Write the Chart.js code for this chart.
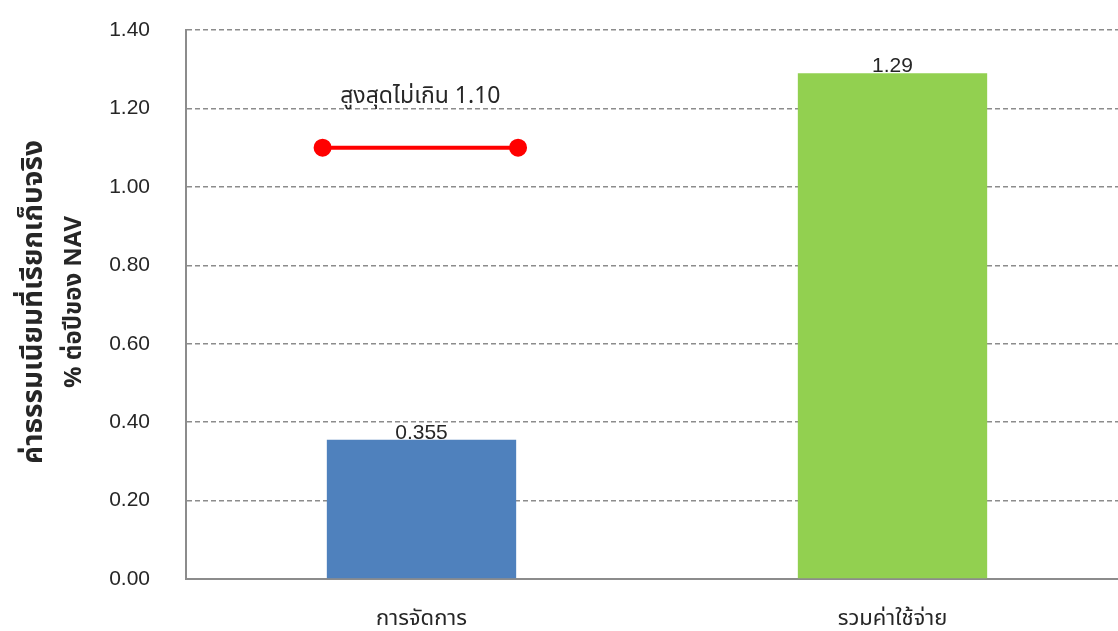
<!DOCTYPE html>
<html>
<head>
<meta charset="utf-8">
<script src="https://cdn.jsdelivr.net/npm/chart.js@4/dist/chart.umd.min.js"></script>
<style>
  html, body { margin: 0; padding: 0; background: #fff; overflow: hidden; }
  #wrap { width: 1128px; height: 631px; }
</style>
</head>
<body>
<div id="wrap"><canvas id="feeChart" width="1128" height="631"></canvas></div>
<script>
"use strict";

const categories = ['การจัดการ', 'รวมค่าใช้จ่าย'];
const actualFees = [0.355, 1.29];
const valueLabels = ['0.355', '1.29'];
const feeCap = 1.10;
const feeCapLabel = 'สูงสุดไม่เกิน 1.10';
const capSpan = [0.29, 0.705];   // position along the first category
const yTicks = [0, 0.2, 0.4, 0.6, 0.8, 1.0, 1.2, 1.4];
const yTitle = ['ค่าธรรมเนียมที่เรียกเก็บจริง', '% ต่อปีของ NAV'];

const FONT = "'Liberation Sans', Arial, 'Noto Sans', sans-serif";
const THAI = "Tahoma, 'Noto Sans Thai', 'Liberation Sans', 'Noto Sans', sans-serif";

// bar values + cap label + rotated axis title
const textPlugin = {
    id: 'textPlugin',
    afterDatasetsDraw(chart) {
        const c = chart.ctx;
        c.save();
        c.fillStyle = '#262626';
        c.textAlign = 'center';
        c.textBaseline = 'bottom';
        c.font = '21px ' + FONT;
        chart.getDatasetMeta(0).data.forEach(function (bar, i) {
            c.fillText(valueLabels[i], bar.x, bar.y + 4);
        });

        const pts = chart.getDatasetMeta(1).data;
        c.font = '23px ' + THAI;
        c.textBaseline = 'middle';
        c.fillText(feeCapLabel, (pts[0].x + pts[1].x) / 2, pts[0].y - 49);

        c.font = 'bold 28px ' + THAI;
        c.save();
        c.translate(36, 302);
        c.rotate(-Math.PI / 2);
        c.fillText(yTitle[0], 0, 0);
        c.restore();
        c.font = 'bold 24px ' + THAI;
        c.save();
        c.translate(76, 302);
        c.rotate(-Math.PI / 2);
        c.fillText(yTitle[1], 0, 0);
        c.restore();
        c.restore();
    }
};

const ctx = document.getElementById('feeChart').getContext('2d');
const chart = new Chart(ctx, {
    type: 'bar',
    data: {
        labels: categories,
        datasets: [{
            label: 'ค่าธรรมเนียม',
            data: actualFees,
            backgroundColor: ['#4F81BD', '#92D050'],
            borderWidth: 0,
            grouped: false,
            categoryPercentage: 1,
            barPercentage: 0.402,
            order: 2
        },
        {
            type: 'line',
            label: feeCapLabel,
            xAxisID: 'x2',
            data: [{ x: capSpan[0], y: feeCap }, { x: capSpan[1], y: feeCap }],
            borderColor: '#FF0000',
            backgroundColor: '#FF0000',
            borderWidth: 4,
            pointRadius: 7,
            pointHoverRadius: 7,
            order: 1
        }]
    },
    options: {
        responsive: false,
        animation: false,
        events: [],
        layout: { autoPadding: false, padding: { top: 30, right: 0, left: 0, bottom: 0 } },
        plugins: {
            legend: { display: false },
            tooltip: { enabled: false }
        },
        scales: {
            x: {
                grid: { display: false },
                border: { color: '#8c8c8c', width: 2 },
                ticks: {
                    color: '#262626',
                    font: { family: THAI, size: 22 },
                    padding: 20
                },
                afterFit(axis) {
                    axis.height = 52;
                    axis.paddingLeft = 0;
                    axis.paddingRight = 0;
                }
            },
            x2: {
                type: 'linear',
                display: false,
                offset: false,
                min: 0,
                max: 2
            },
            y: {
                min: 0,
                max: 1.4,
                afterBuildTicks(axis) {
                    axis.ticks = yTicks.map(function (v) { return { value: v }; });
                },
                ticks: {
                    color: '#262626',
                    font: { family: FONT, size: 21 },
                    padding: 36,
                    callback: function (v) { return v.toFixed(2); }
                },
                grid: {
                    color: '#8c8c8c',
                    lineWidth: 1.5,
                    drawTicks: false
                },
                border: { color: '#8c8c8c', width: 2, dash: [5, 3] },
                afterFit(axis) {
                    axis.width = 186;
                    axis.paddingTop = 0;
                    axis.paddingBottom = 0;
                }
            }
        }
    },
    plugins: [textPlugin]
});
</script>
</body>
</html>
